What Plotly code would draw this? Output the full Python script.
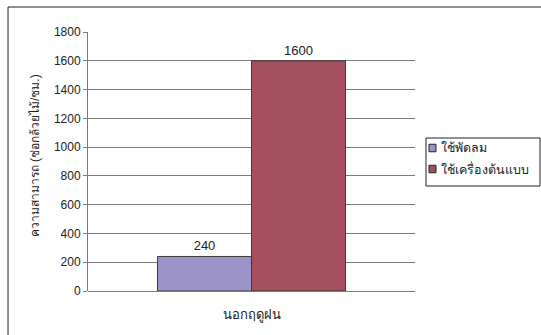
import plotly.graph_objects as go

categories = ["นอกฤดูฝน"]
series_names = ["ใช้พัดลม", "ใช้เครื่องต้นแบบ"]
fan_values = [240]
prototype_values = [1600]
y_ticks = [0, 200, 400, 600, 800, 1000, 1200, 1400, 1600, 1800]

colors = ["#9C94C8", "#A4505E"]
font_family = "Liberation Sans, Arial, sans-serif"

fig = go.Figure()
for name, vals, col in zip(series_names, [fan_values, prototype_values], colors):
    fig.add_trace(go.Bar(
        x=categories, y=vals, name=name,
        marker=dict(color=col, line=dict(color="#3A3A3A", width=1)),
        text=[str(v) for v in vals], textposition="outside",
        textfont=dict(size=13, color="#222", family=font_family),
        cliponaxis=False,
    ))

# Manual legend (Excel-style: small squares, tight spacing)
shapes = [
    dict(type="rect", xref="paper", yref="paper",
         x0=-0.2446, x1=1.6, y0=-0.4, y1=1.0965,
         line=dict(color="#222", width=1), fillcolor="rgba(0,0,0,0)", layer="below"),
    dict(type="rect", xref="paper", yref="paper",
         x0=1.0336, x1=1.3823, y0=0.4054, y1=0.5907,
         line=dict(color="#222", width=1), fillcolor="white"),
]
annotations = [
    dict(text="ความสามารถ (ช่อกล้วยไม้/ชม.)", xref="paper", yref="paper",
         x=-0.162, y=0.52, textangle=-90, showarrow=False,
         font=dict(size=12, color="#222"), xanchor="center", yanchor="middle"),
]
item_y = [0.5521, 0.4710]
half = 0.0145
for name, col, yc in zip(series_names, colors, item_y):
    shapes.append(dict(type="rect", xref="paper", yref="paper",
                       x0=1.0428, x1=1.0428 + 0.0214, y0=yc - half, y1=yc + half,
                       line=dict(color="#222", width=1), fillcolor=col))
    annotations.append(dict(text=name, xref="paper", yref="paper",
                            x=1.0734, y=yc, xanchor="left", yanchor="middle",
                            showarrow=False, font=dict(size=12.5, color="#222")))

fig.update_layout(
    width=541, height=335,
    margin=dict(l=88, r=126, t=32, b=44, autoexpand=False),
    paper_bgcolor="white", plot_bgcolor="white",
    barmode="group", bargap=0.425, bargroupgap=0,
    font=dict(family=font_family, size=12, color="#222"),
    showlegend=False,
    xaxis=dict(
        showline=False, showgrid=False, ticks="",
        tickfont=dict(size=13, color="#222"),
        ticklabelstandoff=14,
    ),
    yaxis=dict(
        range=[0, 1800], tickvals=y_ticks, automargin=False,
        showgrid=True, gridcolor="#7A7A7A", gridwidth=1,
        showline=True, linecolor="#7A7A7A", linewidth=1,
        ticks="outside", ticklen=4, tickcolor="#7A7A7A",
        tickfont=dict(size=12, color="#222"),
        zeroline=True, zerolinecolor="#7A7A7A", zerolinewidth=1,
    ),
    shapes=shapes,
    annotations=annotations,
)

fig.write_html("out.html")
